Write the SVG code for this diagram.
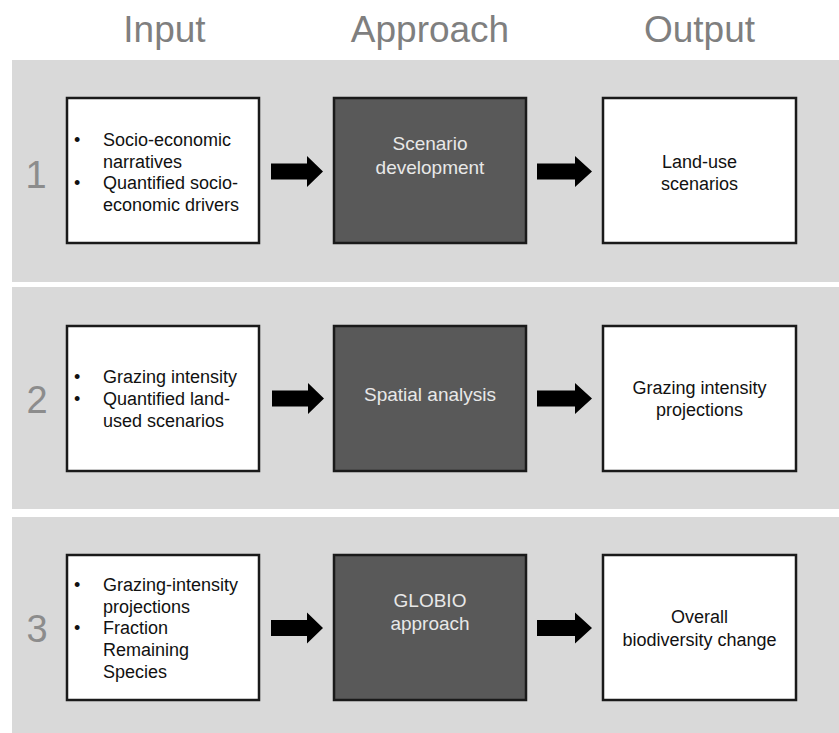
<svg xmlns="http://www.w3.org/2000/svg" width="839" height="733" viewBox="0 0 839 733">
<style>
.band{fill:#d9d9d9}
.hdr{font-family:"Liberation Sans",Arial,sans-serif;font-size:37px;fill:#7f7f7f;text-anchor:middle}
.num{font-family:"Liberation Sans",Arial,sans-serif;font-size:38px;fill:#8c8c8c;text-anchor:middle}
.wbox{fill:#ffffff;stroke:#1a1a1a;stroke-width:2.5}
.dbox{fill:#595959;stroke:#1a1a1a;stroke-width:2.5}
.t{font-family:"Liberation Sans",Arial,sans-serif;font-size:18px;fill:#111111}
.c{text-anchor:middle}
.d{font-family:"Liberation Sans",Arial,sans-serif;font-size:19px;fill:#e8e8e8;text-anchor:middle}
.arr{fill:#000000}
</style>
<defs>
<path id="arrow1" d="M0,-8 H36 V-15.5 L52,0 L36,15.5 V8 H0 Z"/>
<path id="arrow2" d="M0,-8 H38 V-15.5 L55,0 L38,15.5 V8 H0 Z"/>
</defs>
<rect width="839" height="733" fill="#ffffff"/>
<g id="headers">
<text class="hdr" x="164.5" y="42">Input</text>
<text class="hdr" x="430" y="42">Approach</text>
<text class="hdr" x="699.5" y="42">Output</text>
</g>
<g id="bands">
<rect class="band" x="12" y="60" width="827" height="222"/>
<rect class="band" x="12" y="287" width="827" height="222"/>
<rect class="band" x="12" y="517" width="827" height="216"/>
</g>
<g id="row-numbers">
<text class="num" x="36" y="188">1</text>
<text class="num" x="37" y="413">2</text>
<text class="num" x="37" y="642">3</text>
</g>
<g id="input1">
<rect class="wbox" x="67" y="98" width="192" height="145"/>
<text class="t" x="74" y="146">•</text>
<text class="t" x="103" y="146">Socio-economic</text>
<text class="t" x="103" y="167.5">narratives</text>
<text class="t" x="74" y="189">•</text>
<text class="t" x="103" y="189">Quantified socio-</text>
<text class="t" x="103" y="211">economic drivers</text>
</g>
<g id="approach1">
<rect class="dbox" x="334" y="98" width="192" height="145"/>
<text class="d" x="430" y="150">Scenario</text>
<text class="d" x="430" y="173.5">development</text>
</g>
<g id="output1">
<rect class="wbox" x="603" y="98" width="193" height="145"/>
<text class="t c" x="699.5" y="168">Land-use</text>
<text class="t c" x="699.5" y="189.5">scenarios</text>
</g>
<g id="input2">
<rect class="wbox" x="67" y="326" width="192" height="145"/>
<text class="t" x="74" y="383">•</text>
<text class="t" x="103" y="383">Grazing intensity</text>
<text class="t" x="74" y="405">•</text>
<text class="t" x="103" y="405">Quantified land-</text>
<text class="t" x="103" y="427">used scenarios</text>
</g>
<g id="approach2">
<rect class="dbox" x="334" y="326" width="192" height="145"/>
<text class="d" x="430" y="400.5">Spatial analysis</text>
</g>
<g id="output2">
<rect class="wbox" x="603" y="326" width="193" height="145"/>
<text class="t c" x="699.5" y="394">Grazing intensity</text>
<text class="t c" x="699.5" y="415.5">projections</text>
</g>
<g id="input3">
<rect class="wbox" x="67" y="555" width="192" height="145"/>
<text class="t" x="74" y="591">•</text>
<text class="t" x="103" y="591">Grazing-intensity</text>
<text class="t" x="103" y="612.5">projections</text>
<text class="t" x="74" y="634">•</text>
<text class="t" x="103" y="634">Fraction</text>
<text class="t" x="103" y="656">Remaining</text>
<text class="t" x="103" y="678">Species</text>
</g>
<g id="approach3">
<rect class="dbox" x="334" y="555" width="192" height="145"/>
<text class="d" x="430" y="607">GLOBIO</text>
<text class="d" x="430" y="630">approach</text>
</g>
<g id="output3">
<rect class="wbox" x="603" y="555" width="193" height="145"/>
<text class="t c" x="699.5" y="623">Overall</text>
<text class="t c" x="699.5" y="646">biodiversity change</text>
</g>
<g id="connectors" class="arr">
<use href="#arrow1" x="271" y="171.5"/>
<use href="#arrow2" x="537" y="171.5"/>
<use href="#arrow1" x="272" y="398.5"/>
<use href="#arrow2" x="537" y="398.5"/>
<use href="#arrow1" x="271" y="628"/>
<use href="#arrow2" x="537" y="628"/>
</g>
</svg>
